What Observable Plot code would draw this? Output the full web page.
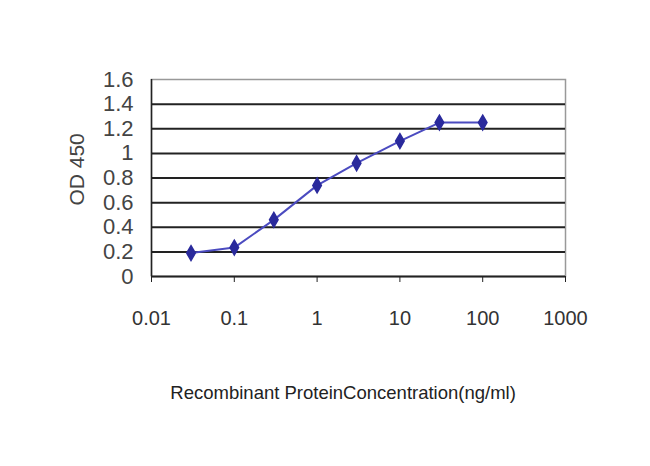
<!DOCTYPE html>
<html>
<head>
<meta charset="utf-8">
<script src="https://cdn.jsdelivr.net/npm/d3@7"></script>
<script src="https://cdn.jsdelivr.net/npm/@observablehq/plot@0.6"></script>
<style>
  body { margin: 0; background: #fff; }
  #chart { width: 650px; height: 466px; }
  svg { font-family: Arial, "Liberation Sans", sans-serif; }
</style>
</head>
<body>
<div id="chart"></div>
<script>
const concentrations = [0.03, 0.1, 0.3, 1, 3, 10, 30, 100];
const od450 = [0.19, 0.235, 0.46, 0.74, 0.92, 1.10, 1.25, 1.25];
const xTicks = [0.01, 0.1, 1, 10, 100, 1000];
const xTickLabels = ["0.01", "0.1", "1", "10", "100", "1000"];
const yTicks = [0, 0.2, 0.4, 0.6, 0.8, 1, 1.2, 1.4, 1.6];
const yTickLabels = ["0", "0.2", "0.4", "0.6", "0.8", "1", "1.2", "1.4", "1.6"];
const xTitle = "Recombinant ProteinConcentration(ng/ml)";
const yTitle = "OD 450";

const data = concentrations.map((c, i) => ({x: c, y: od450[i]}));
const gridVals = yTicks.filter(v => v > 0 && v < 1.6);

const plot = Plot.plot({
  width: 650,
  height: 466,
  marginLeft: 151,
  marginRight: 85,
  marginTop: 79,
  marginBottom: 190,
  x: {type: "log", domain: [0.01, 1000], ticks: xTicks, tickFormat: (d) => xTickLabels[xTicks.indexOf(d)]},
  y: {domain: [0, 1.6], ticks: yTicks, tickFormat: (d) => yTickLabels[yTicks.indexOf(d)]},
  marks: [
    Plot.frame({stroke: "#999", strokeWidth: 1.5}),
    Plot.ruleY(gridVals, {stroke: "#222", strokeWidth: 2}),
    Plot.ruleX([0.01], {stroke: "#222", strokeWidth: 1.5}),
    Plot.ruleY([0], {stroke: "#222", strokeWidth: 2}),
    Plot.axisX({ticks: xTicks, tickFormat: (d) => xTickLabels[xTicks.indexOf(d)], tickSize: 6, tickPadding: 28, fontSize: 20, stroke: "#222", fill: "#333", label: null}),
    Plot.axisY({ticks: yTicks, tickFormat: (d) => yTickLabels[yTicks.indexOf(d)], tickSize: 0, tickPadding: 18, fontSize: 22, fill: "#444", label: null}),
    Plot.text([yTitle], {x: [0.01], y: [0.87], dx: -74, rotate: -90, textAnchor: "middle", fontSize: 21, fill: "#444", text: d => d}),
    Plot.line(data, {x: "x", y: "y", stroke: "#4b4bc0", strokeWidth: 2}),
    Plot.dot(data, {x: "x", y: "y", symbol: "diamond", r: 4.5, fill: "#2a2a9c", stroke: "#2a2a9c"}),
    Plot.text([xTitle], {x: [1], y: [0], dx: 26, dy: 117, fontSize: 18.5, fill: "#222", text: d => d})
  ]
});
document.getElementById("chart").appendChild(plot);
</script>
</body>
</html>
